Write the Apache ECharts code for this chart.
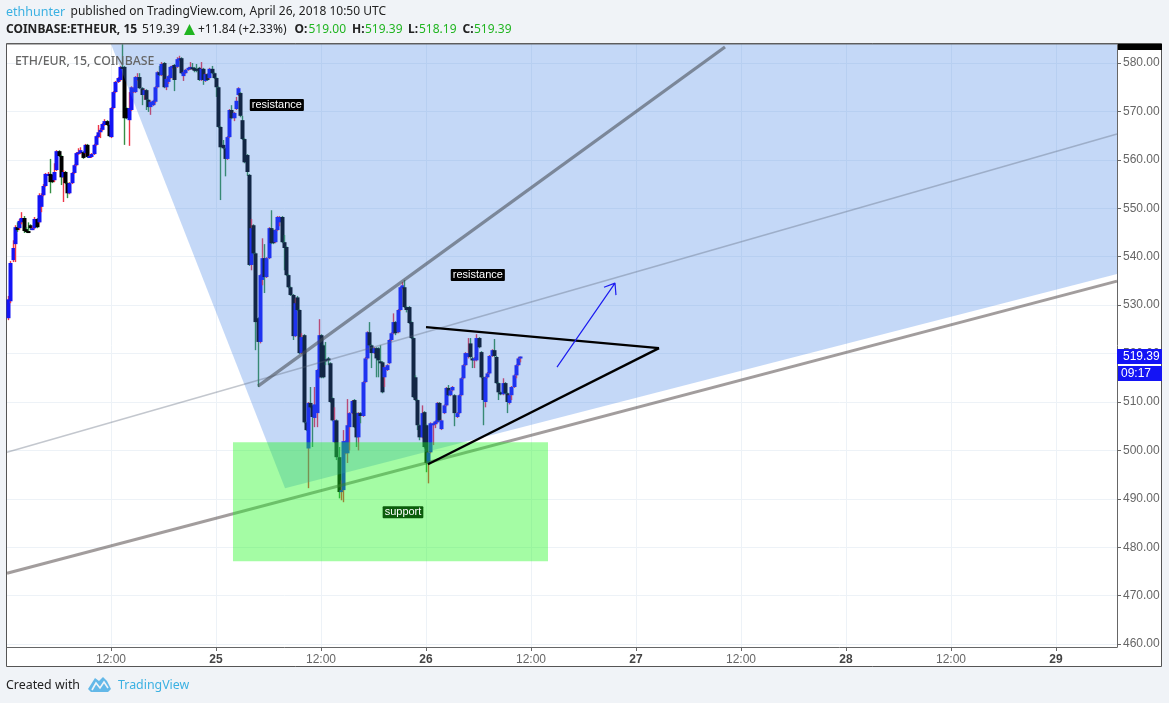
<!DOCTYPE html>
<html>
<head>
<meta charset="utf-8">
<style>html,body{margin:0;padding:0;background:#f0f3f7}#c{width:1169px;height:703px}</style>
<script src="https://cdn.jsdelivr.net/npm/echarts@6/dist/echarts.min.js"></script>
</head>
<body>
<div id="c"></div>
<script>
// Bars: 15-minute candles, time in hours since Apr 24 00:00
const firstBarHour = 0.25, barStepHours = 0.25;
const opens = [
527.3,530.8,539.3,542.6,546.1,545.9,547.1,548.0,545.7,545.3,
546.5,545.7,545.9,547.8,547.1,550.3,552.7,554.6,556.9,557.1,
556.9,555.8,557.9,561.8,560.8,556.4,557.5,555.2,553.1,555.2,
557.3,558.9,561.2,561.4,561.6,561.4,563.1,560.6,560.6,561.2,
563.1,564.7,565.7,566.2,567.2,568.0,567.2,564.7,570.7,574.0,
576.1,576.5,579.2,579.2,570.7,568.2,570.3,574.0,574.0,576.5,
577.1,574.8,573.4,574.4,572.4,570.9,571.3,572.0,575.0,578.1,
577.5,580.0,575.0,576.1,576.9,579.0,579.6,579.2,580.6,581.0,
577.3,577.9,578.6,578.8,579.1,579.0,578.8,579.0,576.5,578.8,
576.3,577.7,576.9,578.8,577.9,576.9,575.0,566.8,563.1,562.4,
560.2,564.7,570.3,568.6,570.5,573.4,573.8,568.2,564.3,561.0,
556.9,538.3,546.5,540.7,527.3,522.4,535.2,539.7,535.8,539.7,
545.9,545.5,543.0,545.5,547.1,548.2,543.0,542.0,536.2,533.7,
532.1,523.6,531.6,529.0,520.1,523.8,505.8,500.4,509.8,509.3,
506.7,507.7,515.1,523.8,521.7,518.8,519.0,518.0,510.8,501.7,
506.2,498.6,491.4,491.8,499.4,499.4,504.8,507.7,510.4,507.7,
502.7,507.7,507.1,514.1,519.0,524.4,521.7,520.1,521.1,521.1,
518.4,518.2,515.1,516.6,518.0,522.8,524.2,526.5,524.4,529.0,
533.5,533.7,529.6,529.6,526.5,523.2,515.1,510.4,505.2,502.7,
507.9,505.2,497.4,499.6,505.2,505.4,505.8,509.8,504.4,507.7,
509.3,512.9,511.4,512.4,511.4,506.9,507.7,511.4,514.9,517.6,
519.3,522.1,519.0,518.6,518.6,523.2,520.3,515.1,510.0,515.1,
515.9,519.5,520.7,519.3,513.9,512.0,511.6,513.9,511.8,509.8,
511.4,513.1,515.5,517.6,519.0];
const closes = [
531.2,538.7,541.8,546.1,545.5,547.4,548.0,545.3,545.1,545.1,
545.9,545.9,547.8,546.1,552.7,552.7,554.6,557.1,557.1,555.4,
555.4,557.5,561.8,560.8,556.4,557.5,555.2,553.1,555.2,557.3,
558.9,561.4,561.6,562.0,560.4,563.1,560.6,560.8,561.2,563.1,
564.9,565.7,566.2,567.4,568.0,567.2,564.9,570.7,574.0,576.1,
576.9,579.2,579.0,568.6,568.6,570.7,575.0,574.8,577.1,577.1,
574.8,573.4,574.4,572.4,570.9,572.0,572.2,575.0,578.1,577.5,
579.8,575.0,576.7,577.3,579.2,579.4,576.5,580.8,581.0,577.9,
578.1,578.6,579.0,579.2,578.8,578.4,578.4,576.5,578.8,576.5,
577.7,576.5,578.8,577.9,576.9,575.0,566.8,562.6,562.4,560.2,
564.7,570.3,568.6,569.7,572.2,574.8,569.1,564.3,559.5,557.5,
538.3,545.9,540.7,526.5,522.4,536.2,539.7,535.8,539.7,545.9,
542.8,542.8,545.5,548.2,548.2,543.0,541.8,536.2,533.7,532.1,
523.6,530.4,529.0,520.1,523.4,505.8,504.2,509.8,508.9,506.9,
509.5,516.6,523.8,515.1,515.1,518.6,518.6,510.0,506.2,506.2,
498.6,491.4,491.8,501.9,501.9,505.2,507.7,510.2,504.8,502.7,
507.7,507.1,514.1,519.0,524.4,521.7,520.1,521.1,519.0,518.6,
518.2,512.0,517.2,517.6,522.8,524.2,526.5,524.2,529.0,533.7,
534.1,529.6,529.0,526.3,523.2,511.0,510.4,505.2,502.7,507.7,
500.7,497.4,499.6,505.6,505.6,506.0,509.8,506.2,506.2,509.3,
512.9,511.4,512.4,513.1,507.7,507.7,511.4,514.9,517.6,520.1,
520.1,519.3,518.8,519.0,523.2,521.3,515.1,510.4,515.1,515.9,
519.5,520.7,519.5,513.9,512.0,511.6,513.9,511.8,510.0,511.4,
513.1,515.5,517.6,519.0,519.39];
const lows = [
526.9,530.4,538.9,538.9,545.1,545.5,546.7,544.9,544.9,544.9,
545.5,545.5,545.7,545.9,546.9,549.2,552.5,554.4,556.7,553.1,
555.2,555.4,557.7,560.6,554.8,551.3,555.0,552.1,552.9,555.0,
557.1,558.7,561.0,561.2,560.2,561.2,560.4,560.4,560.4,561.0,
562.9,564.5,564.5,566.0,567.0,567.0,564.7,564.5,570.5,573.8,
575.9,576.3,578.8,563.1,568.4,562.9,570.1,573.8,573.8,576.3,
574.6,571.3,572.4,570.3,569.9,569.3,571.1,571.7,574.8,577.3,
577.3,574.8,574.4,575.7,576.7,578.8,574.2,579.0,580.4,577.7,
576.3,577.7,578.4,578.6,578.6,578.1,578.1,576.3,576.3,575.5,
576.1,576.3,576.7,577.7,576.7,573.0,566.6,551.7,562.2,556.6,
560.0,564.5,568.4,568.0,570.3,573.2,568.8,564.1,559.3,556.7,
538.1,537.2,540.5,520.7,513.1,522.1,534.1,532.5,535.6,539.5,
542.6,542.6,542.8,545.3,546.3,542.8,537.2,536.0,533.5,531.9,
522.8,523.4,528.8,519.9,519.9,505.6,504.0,492.2,508.7,500.7,
504.8,504.8,514.9,514.9,514.9,517.6,517.6,509.8,506.0,501.5,
498.0,490.1,489.7,489.3,499.2,497.4,500.0,507.5,504.6,500.7,
500.0,505.6,506.9,513.9,518.8,521.5,517.0,519.9,515.1,515.1,
518.0,511.8,513.1,516.4,517.8,522.6,524.0,523.8,524.2,528.8,
533.3,529.4,528.5,526.1,523.0,510.8,510.2,504.2,502.1,502.5,
500.4,495.5,493.2,499.4,501.1,504.6,505.6,506.0,504.2,507.5,
509.1,511.2,511.2,512.2,505.0,506.7,507.5,511.2,514.7,517.4,
519.0,519.0,517.0,517.0,518.4,521.1,514.9,505.2,508.9,514.9,
515.7,519.3,519.3,513.7,510.4,511.4,511.4,511.6,507.7,509.5,
510.4,512.9,514.9,517.4,518.19];
const highs = [
531.9,539.1,543.4,546.5,547.1,547.8,549.2,548.4,546.1,547.1,
546.7,546.3,548.2,548.0,553.1,553.1,555.0,557.3,557.5,560.2,
557.1,559.3,562.0,562.0,561.0,557.9,557.7,555.4,555.4,557.5,
559.1,561.6,562.4,562.6,561.8,563.3,563.3,561.0,561.4,563.3,
565.1,567.2,566.6,567.6,568.4,568.2,567.4,570.9,574.2,576.3,
577.1,579.4,583.9,579.4,570.9,574.0,575.2,575.0,577.3,577.9,
577.9,575.0,574.6,574.6,572.6,572.2,572.4,575.2,578.3,579.4,
580.2,580.2,576.9,577.5,579.4,579.6,579.8,581.2,581.5,581.2,
578.3,578.8,579.2,580.2,580.0,579.2,579.8,579.2,580.2,579.0,
577.9,577.9,579.0,579.4,578.1,577.1,575.2,567.0,564.1,562.6,
564.9,570.5,571.3,569.9,573.0,575.0,574.0,569.1,564.5,561.2,
557.1,547.8,546.7,540.9,527.5,536.4,543.8,542.6,539.9,546.1,
549.6,545.7,545.7,548.4,548.4,548.4,544.5,542.2,536.4,533.9,
532.3,531.4,531.9,529.2,524.2,524.0,506.0,510.0,513.1,509.5,
513.1,516.8,527.1,524.0,521.9,522.4,519.3,518.2,511.0,508.9,
506.4,500.7,493.8,504.2,502.1,510.6,507.9,510.4,510.6,507.9,
507.9,507.9,514.3,519.3,524.6,526.5,521.9,521.3,521.3,521.3,
521.7,518.4,517.4,517.8,523.0,524.4,528.3,526.7,529.2,533.9,
534.8,535.2,529.8,529.8,526.7,523.4,515.5,510.6,505.4,509.3,
508.1,505.4,499.8,505.8,505.8,506.2,510.0,510.0,506.4,509.5,
513.1,513.5,512.6,513.3,511.6,507.9,511.6,515.1,517.8,520.3,
523.2,523.2,519.3,519.3,524.0,523.4,520.5,515.3,515.3,516.2,
519.7,520.9,523.0,519.5,514.1,512.2,514.9,514.1,512.0,511.6,
513.3,515.7,517.8,519.3,519.39];

// Axis ticks
const priceTicks = [470,480,490,500,510,520,530,540,550,560,570,580,460];
const timeTicks = [12,24,36,48,60,72,84,96,108,120];
const timeLabels = ['12:00','25','12:00','26','12:00','27','12:00','28','12:00','29'];
const timeMin = 0.114, timeMax = 126.97, priceMin = 459.4, priceMax = 583.93;

// Drawings, as [hour, price]
const channelZone = [[12,583.93],[31.89,492.19],[126.97,536.41],[126.97,583.93]];
const supportZone = [[25.94,501.7],[61.94,501.7],[61.94,477.1],[25.94,477.1]];
const supportLine = [[0.114,474.63],[126.97,534.96]];
const upperLine = [[28.8,513.27],[82.17,583.31]];
const midLine = [[0.114,499.63],[126.97,565.33]];
const wedgeTop = [[48,525.46],[74.63,521.12]];
const wedgeBottom = [[48.23,497.15],[74.63,521.12]];
const arrowPath = [[62.97,517.2],[69.6,534.55],[68.34,533.7],[69.6,534.55],[69.71,532.07]];
const noteResistance = [[30.95,571.35],[53.92,536.25]];
const noteSupport = [[45.37,487.24]];

const bars = opens.map((o,i)=>[firstBarHour+barStepHours*i,o,closes[i],lows[i],highs[i]]);

function candle(params, api){
  const x = api.value(0), o = api.value(1), c = api.value(2), l = api.value(3), h = api.value(4);
  const up = c >= o;
  const cx = Math.round(api.coord([x,o])[0]);
  const yo = api.coord([x,o])[1], yc = api.coord([x,c])[1];
  const yl = api.coord([x,l])[1], yh = api.coord([x,h])[1];
  const top = Math.min(yo,yc), hgt = Math.max(Math.abs(yo-yc),2);
  return {type:'group',children:[
    {type:'rect',shape:{x:cx-0.2,y:yh,width:1.4,height:yl-yh},style:{fill:up?'#ee3548':'#358f44'}},
    {type:'rect',shape:{x:cx-1.5,y:top,width:4,height:hgt},style:{fill:up?'#1414f5':'#000000'}}
  ]};
}
function polygon(points, fill, z){
  return {type:'custom',coordinateSystem:'cartesian2d',silent:true,z,
    data:[0],encode:{x:[],y:[]},
    renderItem:(p,api)=>({type:'polygon',shape:{points:points.map(pt=>api.coord(pt))},style:{fill}})};
}
function line(points,color,width,z){
  return {type:'line',data:points,showSymbol:false,symbol:'none',silent:true,z,
    lineStyle:{color,width},itemStyle:{color}};
}
function note(points,text,bg,color){
  return {type:'scatter',data:points,symbolSize:0,silent:true,z:9,itemStyle:{opacity:1},
    label:{show:true,position:'inside',formatter:text,color,backgroundColor:bg,opacity:1,
      fontFamily:'Liberation Sans',fontSize:11,padding:[1,2,0,2],borderRadius:1}};
}
const axisFont = {fontFamily:'Liberation Sans',fontSize:12,color:'#666'};
const t = (x,y,text,font,fill,extra)=>Object.assign({type:'text',x,y,z:50,
  style:{text,font,fill,textVerticalAlign:'middle'}},extra||{});
const f1 = '12px "Noto Sans"', fb = 'bold 12px "Noto Sans"', green = '#21b521';

const chart = echarts.init(document.getElementById('c'),null,{renderer:'canvas'});
chart.setOption({
  animation:false,
  backgroundColor:'#f0f3f7',
  grid:{left:7,right:52,top:44,bottom:56,show:false},
  xAxis:{type:'value',min:timeMin,max:timeMax,
    axisLine:{show:true,onZero:false,lineStyle:{color:'#666',width:1}},
    axisTick:{show:true,length:4,customValues:timeTicks,lineStyle:{color:'#666'}},
    axisLabel:{customValues:timeTicks,margin:7,hideOverlap:false,showMinLabel:true,showMaxLabel:true,
      formatter:v=>{const l=timeLabels[timeTicks.indexOf(v)];return l.length>2?l:'{d|'+l+'}';},
      ...axisFont,rich:{d:{fontFamily:'Liberation Sans',fontSize:12,fontWeight:'bold',color:'#444'}}},
    splitLine:{show:true,lineStyle:{color:'#edf2f7',width:1}}},
  yAxis:{type:'value',position:'right',min:priceMin,max:priceMax,
    axisLine:{show:true,onZero:false,lineStyle:{color:'#666',width:1}},
    axisTick:{show:true,length:4,customValues:priceTicks,lineStyle:{color:'#666'}},
    axisLabel:{customValues:priceTicks,margin:6,hideOverlap:false,padding:[4,0,0,0],formatter:v=>v.toFixed(2),...axisFont},
    splitLine:{show:true,lineStyle:{color:'#edf2f7',width:1}}},
  series:[
    {type:'custom',coordinateSystem:'cartesian2d',data:bars,renderItem:candle,z:2,silent:true,
      encode:{x:0,y:[1,2,3,4]}},
    polygon(channelZone,'rgba(61,125,228,0.3)',3),
    line(midLine,'rgba(90,100,120,0.36)',1.5,4),
    line(upperLine,'rgba(70,75,85,0.58)',3.2,4),
    line(supportLine,'rgba(70,60,60,0.5)',3,4),
    polygon(supportZone,'rgba(28,247,28,0.4)',5),
    line(wedgeTop,'#000',2.3,6),
    line(wedgeBottom,'#000',2.3,6),
    line(arrowPath,'#1c1cf0',1.2,6),
    note(noteResistance,'resistance','#000','#fff'),
    note(noteSupport,'support','#0b5c0b','#fff')
  ],
  graphic:{elements:[
    {type:'rect',z:-10,shape:{x:6.5,y:43.5,width:1155,height:623},style:{fill:'#fff',stroke:'#555',lineWidth:1}},
    {type:'rect',z:40,shape:{x:7,y:43.5,width:1110,height:1},style:{fill:'#666'}},
    // clipped edge labels
    {type:'rect',z:40,shape:{x:1118,y:648,width:43,height:6},style:{fill:'#fff'}},
    {type:'rect',z:40,shape:{x:1118,y:44,width:44,height:6},style:{fill:'#000'}},
    // last price tags
    {type:'rect',z:40,shape:{x:1117,y:349,width:45,height:15},style:{fill:'#1414f5'}},
    {type:'rect',z:40,shape:{x:1118,y:366,width:44,height:15},style:{fill:'#1414f5'}},
    t(1123,356.5,'519.39','12px "Liberation Sans"','#fff'),
    t(1121,373.5,'09:17','12px "Liberation Sans"','#fff'),
    // watermark
    t(15,61,'ETH/EUR, 15, COINBASE','500 12.3px "Noto Sans"','#666'),
    // header
    t(6,12,'ethhunter','12.5px "Noto Sans"','#3bb1e2'),
    t(70.5,12,'published on TradingView.com, April 26, 2018 10:50 UTC',f1,'#222'),
    t(6,30,'COINBASE:ETHEUR, 15',fb,'#222'),
    t(142,30,'519.39',f1,'#222'),
    {type:'polygon',z:50,shape:{points:[[184,35],[195,35],[189.5,24]]},style:{fill:green}},
    t(198,30,'+11.84 (+2.33%)',f1,'#222'),
    t(294.5,30,'O:',fb,'#222'),t(308.5,30,'519.00',f1,green),
    t(352,30,'H:',fb,'#222'),t(365,30,'519.39',f1,green),
    t(408,30,'L:',fb,'#222'),t(419,30,'518.19',f1,green),
    t(462.5,30,'C:',fb,'#222'),t(474,30,'519.39',f1,green),
    // footer
    t(6,685,'Created with','12.4px "Noto Sans"','#222'),
    {type:'polygon',z:50,shape:{points:[[88,689],[95,678],[99,681],[103,677],[107,681],[111,689],[108,692],[91,692]]},style:{fill:'#63b8e8'}},
    {type:'polyline',z:51,shape:{points:[[92,690],[96,683],[100,688],[104,682],[108,688]]},style:{stroke:'#f0f3f7',fill:'none',lineWidth:1.6}},
    t(118,685,'TradingView','12.4px "Noto Sans"','#3bb1e2')
  ]}
});
</script>
</body>
</html>
